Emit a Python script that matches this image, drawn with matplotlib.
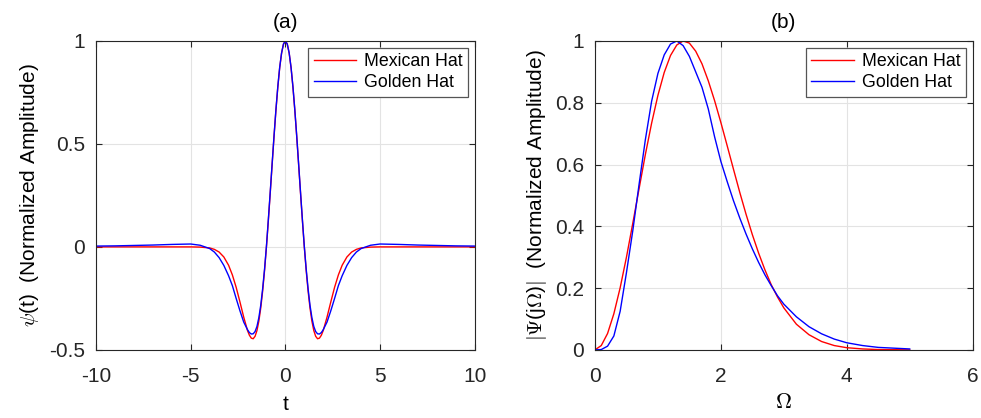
import matplotlib
matplotlib.use("Agg")
import matplotlib.pyplot as plt
from matplotlib.ticker import FormatStrFormatter

plt.rcParams["font.family"] = ["Liberation Sans", "DejaVu Sans"]
plt.rcParams["mathtext.fontset"] = "cm"
plt.rcParams["axes.unicode_minus"] = False

# (a) time domain
t = [-10, -9, -8, -7, -6, -5, -4.5, -4, -3.75, -3.5, -3.25, -3, -2.8, -2.6, -2.4, -2.2,
     -2, -1.9, -1.8, -1.7, -1.6, -1.5, -1.4, -1.3, -1.2, -1.1, -1, -0.9, -0.8, -0.7,
     -0.6, -0.5, -0.4, -0.3, -0.2, -0.1, 0, 0.1, 0.2, 0.3, 0.4, 0.5, 0.6, 0.7, 0.8, 0.9,
     1, 1.1, 1.2, 1.3, 1.4, 1.5, 1.6, 1.7, 1.8, 1.9, 2, 2.2, 2.4, 2.6, 2.8, 3, 3.25, 3.5,
     3.75, 4, 4.5, 5, 6, 7, 8, 9, 10]
mexican_t = [0, 0, 0, 0, 0, 0, -0.001, -0.005, -0.012, -0.025, -0.049, -0.089, -0.136,
             -0.196, -0.267, -0.341, -0.406, -0.429, -0.443, -0.446, -0.434, -0.406,
             -0.360, -0.296, -0.214, -0.115, 0, 0.127, 0.261, 0.399, 0.535, 0.662, 0.775,
             0.870, 0.941, 0.985, 1, 0.985, 0.941, 0.870, 0.775, 0.662, 0.535, 0.399,
             0.261, 0.127, 0, -0.115, -0.214, -0.296, -0.360, -0.406, -0.434, -0.446,
             -0.443, -0.429, -0.406, -0.341, -0.267, -0.196, -0.136, -0.089, -0.049,
             -0.025, -0.012, -0.005, -0.001, 0, 0, 0, 0, 0, 0]
golden_t = [0.004, 0.005, 0.007, 0.009, 0.012, 0.014, 0.008, -0.008, -0.025, -0.052,
            -0.090, -0.140, -0.188, -0.250, -0.310, -0.365, -0.402, -0.416, -0.423,
            -0.422, -0.411, -0.386, -0.343, -0.283, -0.203, -0.108, 0.003, 0.132, 0.266,
            0.403, 0.538, 0.665, 0.778, 0.872, 0.942, 0.985, 1, 0.985, 0.942, 0.872,
            0.778, 0.665, 0.538, 0.403, 0.266, 0.132, 0.003, -0.108, -0.203, -0.283,
            -0.343, -0.386, -0.411, -0.422, -0.423, -0.416, -0.402, -0.365, -0.310,
            -0.250, -0.188, -0.140, -0.090, -0.052, -0.025, -0.008, 0.008, 0.014, 0.012,
            0.009, 0.007, 0.005, 0.004]

# (b) magnitude spectrum
omega = [0, 0.1, 0.2, 0.3, 0.4, 0.5, 0.6, 0.7, 0.8, 0.9, 1.0, 1.1, 1.2, 1.3, 1.4, 1.5,
         1.6, 1.7, 1.8, 1.9, 2.0, 2.1, 2.2, 2.3, 2.4, 2.5, 2.6, 2.7, 2.8, 2.9, 3.0, 3.2,
         3.4, 3.6, 3.8, 4.0, 4.25, 4.5, 5.0]
mexican_w = [0, 0.014, 0.053, 0.117, 0.201, 0.300, 0.409, 0.521, 0.632, 0.734, 0.824,
             0.898, 0.953, 0.987, 1.000, 0.993, 0.967, 0.926, 0.871, 0.807, 0.736,
             0.661, 0.585, 0.510, 0.439, 0.373, 0.313, 0.259, 0.211, 0.171, 0.136,
             0.083, 0.049, 0.027, 0.014, 0.007, 0.003, 0.001, 0.0001]
golden_w = [0, 0.001, 0.012, 0.045, 0.125, 0.250, 0.385, 0.535, 0.680, 0.805, 0.895,
            0.955, 0.990, 1.000, 0.985, 0.950, 0.900, 0.850, 0.780, 0.690, 0.610,
            0.545, 0.483, 0.427, 0.375, 0.327, 0.283, 0.243, 0.208, 0.175, 0.148,
            0.107, 0.075, 0.052, 0.035, 0.023, 0.014, 0.008, 0.003]

AX_COLOR = "#262626"
FS = 15


def style_axes(ax):
    ax.grid(True, color="#e3e3e3", linewidth=0.8)
    ax.set_axisbelow(True)
    for sp in ax.spines.values():
        sp.set_color(AX_COLOR)
        sp.set_linewidth(0.8)
    ax.tick_params(direction="in", length=4, width=0.8, top=True, right=True,
                   colors=AX_COLOR, labelsize=FS)
    ax.tick_params(axis="x", pad=12)
    ax.tick_params(axis="y", pad=8)
    leg = ax.legend(loc="upper right", fontsize=12.8, fancybox=False, framealpha=1,
                    edgecolor="#555555", handlelength=2.4, handletextpad=0.45,
                    borderaxespad=0.37, labelspacing=0.25, borderpad=0.3)
    leg.get_frame().set_linewidth(0.9)


fig = plt.figure(figsize=(9.81, 4.18), dpi=100)
ax1 = fig.add_axes([0.0979, 0.163, 0.386, 0.739])
ax2 = fig.add_axes([0.6065, 0.163, 0.385, 0.739])

ax1.plot(t, mexican_t, color="red", lw=1.0, label="Mexican Hat")
ax1.plot(t, golden_t, color="blue", lw=1.0, label="Golden Hat")
ax1.set_xlim(-10, 10)
ax1.set_ylim(-0.5, 1)
ax1.set_xticks([-10, -5, 0, 5, 10])
ax1.set_yticks([-0.5, 0, 0.5, 1])
ax1.yaxis.set_major_formatter(FormatStrFormatter("%g"))
ax1.set_title("(a)", fontsize=FS, pad=9)
ax1.set_xlabel("t", fontsize=FS, labelpad=7)
ax1.set_ylabel(r"$\psi$(t)  (Normalized Amplitude)", fontsize=FS, labelpad=6)
style_axes(ax1)

ax2.plot(omega, mexican_w, color="red", lw=1.0, label="Mexican Hat")
ax2.plot(omega, golden_w, color="blue", lw=1.0, label="Golden Hat")
ax2.set_xlim(0, 6)
ax2.set_ylim(0, 1)
ax2.set_xticks([0, 2, 4, 6])
ax2.set_yticks([0, 0.2, 0.4, 0.6, 0.8, 1])
ax2.yaxis.set_major_formatter(FormatStrFormatter("%g"))
ax2.set_title("(b)", fontsize=FS, pad=9)
ax2.set_xlabel(r"$\Omega$", fontsize=FS + 1, labelpad=5)
ax2.set_ylabel(r"$|\Psi$(j$\Omega$)$|$  (Normalized Amplitude)", fontsize=FS, labelpad=4)
style_axes(ax2)

fig.savefig("out.png", dpi=100)
